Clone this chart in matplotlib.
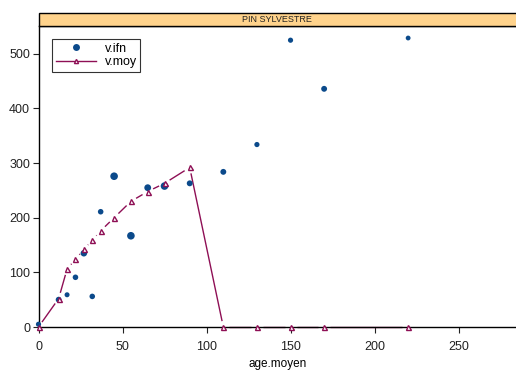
import matplotlib
matplotlib.use("Agg")
import matplotlib.pyplot as plt
import numpy as np

plt.rcParams['font.family'] = ['Liberation Sans', 'DejaVu Sans']

# v.ifn observations
ifn_age = [0, 12, 17, 22, 27, 32, 37, 45, 55, 65, 75, 90, 110, 130, 150, 170, 220]
ifn_val = [5, 50, 59, 91, 135, 56, 211, 276, 167, 255, 258, 263, 284, 334, 525, 436, 529]
ifn_size = [14, 18, 13, 16, 22, 16, 16, 30, 30, 24, 30, 18, 18, 14, 14, 18, 12]

# v.moy curve
moy_age = [0, 12, 17, 22, 27, 32, 37, 45, 55, 65, 75, 90, 110, 130, 150, 170, 220]
moy_val = [0, 52, 106, 124, 142, 159, 176, 200, 230, 248, 263, 292, 0, 0, 0, 0, 0]

x_ticks = [0, 50, 100, 150, 200, 250]
y_ticks = [0, 100, 200, 300, 400, 500]

BLUE = '#0B4A8B'
MAG = '#8E0F55'

W, H = 516, 371
fig = plt.figure(figsize=(W / 100, H / 100), dpi=100)
ax = fig.add_axes([38.5 / W, 1 - 327 / H, 1 - 38.5 / W, (327 - 26) / H])
ax.set_xlim(0, 284.2)
ax.set_ylim(0, 551)

for s in ['left', 'top', 'bottom']:
    ax.spines[s].set_linewidth(1.0)
    ax.spines[s].set_color('black')
ax.spines['right'].set_visible(False)

ax.set_xticks(x_ticks)
ax.set_yticks(y_ticks)
ax.tick_params(axis='both', direction='out', length=4, width=0.8, labelsize=9,
               colors='#222222')
ax.tick_params(axis='y', pad=2)
ax.tick_params(axis='x', pad=6)
ax.set_xlabel('age.moyen', fontsize=8.5, labelpad=4)

# v.ifn points
ax.scatter(ifn_age, ifn_val, s=ifn_size, color=BLUE, zorder=3, linewidths=0,
           clip_on=False)

# v.moy: "type b" lines with gaps around points
fig.canvas.draw()
trans = ax.transData
inv = trans.inverted()
pts = trans.transform(np.column_stack([moy_age, moy_val]))
gap = 6.0
for i in range(len(pts) - 1):
    p0, p1 = pts[i], pts[i + 1]
    d = p1 - p0
    L = np.hypot(*d)
    if L <= 2 * gap:
        continue
    u = d / L
    a = inv.transform(p0 + u * gap)
    b = inv.transform(p1 - u * gap)
    ax.plot([a[0], b[0]], [a[1], b[1]], color=MAG, lw=1.0, zorder=2,
            solid_capstyle='butt', clip_on=False)
ax.plot(moy_age, moy_val, linestyle='none', marker='^', markersize=3.6,
        markerfacecolor='white', markeredgecolor=MAG, markeredgewidth=1.0,
        zorder=4, clip_on=False)

# legend
from matplotlib.lines import Line2D
h1 = Line2D([], [], linestyle='none', marker='o', markersize=5,
            color=BLUE, markeredgewidth=0)
h2 = Line2D([], [], color=MAG, lw=1.0, marker='^', markersize=3,
            markerfacecolor='white', markeredgecolor=MAG)
leg = ax.legend([h1, h2], ['v.ifn', 'v.moy'], loc='upper left',
                bbox_to_anchor=((52 - 38.5) / (W - 38.5), (327 - 39) / (327 - 26)),
                frameon=True, fancybox=False, edgecolor='black', fontsize=9,
                handlelength=3.2, handletextpad=0.7, borderpad=0.3,
                labelspacing=0.1, borderaxespad=0)
leg.get_frame().set_linewidth(0.8)

# strip
from matplotlib.patches import Rectangle
sx0 = 38.5 / W
sy0 = 1 - 26 / H
sh = 13 / H
strip = Rectangle((sx0, sy0), 1 - sx0 + 0.01, sh, transform=fig.transFigure,
                  facecolor='#FFD38C', edgecolor='black', linewidth=1.0,
                  clip_on=False)
fig.patches.append(strip)
fig.text(sx0 + (1 - sx0) / 2, sy0 + sh / 2, 'PIN SYLVESTRE', ha='center',
         va='center', fontsize=6.5, color='#222222')

fig.savefig('out.png', dpi=100)
